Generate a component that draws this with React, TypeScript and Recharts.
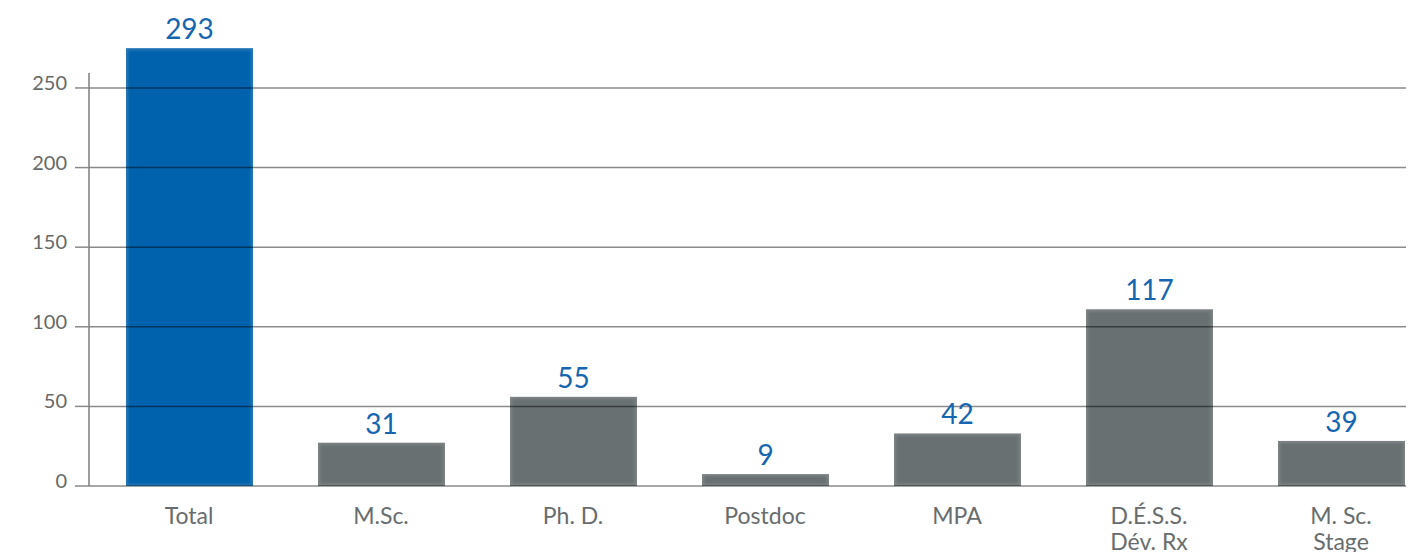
import { BarChart, Bar, XAxis, YAxis, Cell, LabelList, ReferenceLine } from 'recharts';

const categories = ['Total', 'M.Sc.', 'Ph. D.', 'Postdoc', 'MPA', 'D.É.S.S.\nDév. Rx', 'M. Sc.\nStage'];
// bar heights as drawn (the printed figures differ from the drawn heights)
const barHeights = [275, 27.2, 56, 7.5, 33, 111, 28.3];
const valueLabels = [293, 31, 55, 9, 42, 117, 39];
const yTicks = [0, 50, 100, 150, 200, 250];
const axisTop = 259.4;
const domainMax = 275.1;

const data = categories.map((name, i) => ({ name, height: barHeights[i], label: valueLabels[i] }));

const FONT = 'Lato, "Noto Sans", sans-serif';
const BLUE = '#0562ac';
const GRAY = '#687072';
const LABEL_BLUE = '#1565b1';
const GRID = 'rgba(0,0,0,0.46)';

function CategoryTick({ x, y, payload }: any) {
    const lines = String(payload.value).split('\n');
    return (
        <text x={x} y={y} textAnchor="middle" fill="#676c6e" fontSize={23} fontFamily={FONT}>
            {lines.map((line, i) => (
                <tspan key={i} x={x} dy={i === 0 ? 38 : 26}>
                    {line}
                </tspan>
            ))}
        </text>
    );
}

// soft-edged bar: blurred fill clipped to the bar's own box
function SoftBar(props: any) {
    const { x, y, width, height, fill, index } = props;
    if (!height || height <= 0) return null;
    const id = `bar-clip-${index}`;
    return (
        <g>
            <defs>
                <clipPath id={id}>
                    <rect x={x} y={y} width={width} height={height} />
                </clipPath>
                <filter id={`soft-${index}`} x="-10%" y="-10%" width="120%" height="120%">
                    <feGaussianBlur stdDeviation={1.6} />
                </filter>
            </defs>
            <rect x={x} y={y} width={width} height={height} fill={fill} opacity={0.85} />
            <rect
                x={x + 2}
                y={y + 2}
                width={Math.max(width - 4, 0)}
                height={Math.max(height - 4, 0)}
                fill={fill}
                filter={`url(#soft-${index})`}
                clipPath={`url(#${id})`}
            />
        </g>
    );
}

// y axis line, drawn a little left of the first band
function AxisLine(props: any) {
    const { x1, y1, x2, y2 } = props;
    return <line x1={x1 - 4} y1={y1} x2={x2 - 4} y2={y2} stroke="#7d7d7d" strokeWidth={1.5} />;
}

export default function App() {
    return (
        <div style={{ width: 1406, height: 544, overflow: 'hidden' }}>
            <BarChart
                width={1440}
                height={544}
                data={data}
                margin={{ top: 40, right: 11, left: 0, bottom: 0 }}
                barCategoryGap={0}
            >
                <XAxis
                    dataKey="name"
                    axisLine={false}
                    tickLine={false}
                    tickSize={0}
                    tickMargin={0}
                    height={66}
                    interval={0}
                    padding={{ left: 4, right: 0 }}
                    tick={<CategoryTick />}
                />
                <YAxis
                    width={81}
                    domain={[0, domainMax]}
                    ticks={yTicks}
                    axisLine={false}
                    tickLine={{ stroke: '#8a8a8a', strokeWidth: 1.5 }}
                    tickSize={14}
                    tickMargin={8}
                    tick={{ fill: '#666866', fontSize: 20, fontFamily: FONT, dy: -5 }}
                />
                <Bar dataKey="height" barSize={127} isAnimationActive={false} shape={<SoftBar />}>
                    {data.map((d, i) => (
                        <Cell key={d.name} fill={i === 0 ? BLUE : GRAY} />
                    ))}
                    <LabelList
                        dataKey="label"
                        position="top"
                        offset={9}
                        fill={LABEL_BLUE}
                        fontSize={28}
                        fontFamily={FONT}
                    />
                </Bar>
                {yTicks.map((t) => (
                    <ReferenceLine key={t} y={t} stroke={GRID} strokeWidth={1.5} />
                ))}
                <ReferenceLine
                    segment={[
                        { x: categories[0], y: 0 },
                        { x: categories[0], y: axisTop },
                    ]}
                    position="start"
                    shape={<AxisLine />}
                />
            </BarChart>
        </div>
    );
}
